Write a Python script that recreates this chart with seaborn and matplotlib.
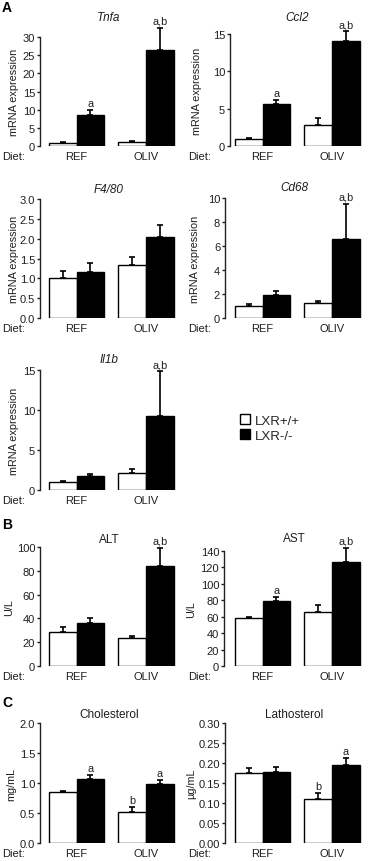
import numpy as np
import pandas as pd
import matplotlib
matplotlib.use("Agg")
import matplotlib.pyplot as plt
import seaborn as sns
from matplotlib.patches import Patch

# categories
diets = ["REF", "OLIV"]
genotypes = ["LXR+/+", "LXR-/-"]

# values in order REF +/+, REF -/-, OLIV +/+, OLIV -/-
tnfa_mean = [0.9, 8.5, 1.2, 26.3]
tnfa_err = [0.15, 1.4, 0.25, 6.3]
tnfa_sig = ["", "a", "", "a,b"]

ccl2_mean = [0.9, 5.65, 2.75, 14.05]
ccl2_err = [0.15, 0.5, 1.05, 1.3]
ccl2_sig = ["", "a", "", "a,b"]

f480_mean = [1.0, 1.17, 1.33, 2.03]
f480_err = [0.19, 0.22, 0.22, 0.32]
f480_sig = ["", "", "", ""]

cd68_mean = [1.0, 1.92, 1.28, 6.55]
cd68_err = [0.14, 0.34, 0.17, 2.98]
cd68_sig = ["", "", "", "a,b"]

il1b_mean = [1.0, 1.75, 2.1, 9.3]
il1b_err = [0.17, 0.21, 0.57, 5.53]
il1b_sig = ["", "", "", "a,b"]

alt_mean = [28.2, 35.8, 23.4, 84.2]
alt_err = [4.5, 4.2, 1.6, 15.2]
alt_sig = ["", "", "", "a,b"]

ast_mean = [58.0, 79.1, 65.7, 127.0]
ast_err = [1.7, 4.9, 8.2, 16.7]
ast_sig = ["", "a", "", "a,b"]

chol_mean = [0.85, 1.07, 0.52, 0.99]
chol_err = [0.025, 0.07, 0.08, 0.06]
chol_sig = ["", "a", "b", "a"]

lath_mean = [0.175, 0.178, 0.111, 0.195]
lath_err = [0.012, 0.013, 0.015, 0.018]
lath_sig = ["", "", "b", "a"]

sns.set_style("ticks")
plt.rcParams["font.family"] = ["Liberation Sans", "DejaVu Sans"]
txt = "#1e1e1e"

W, H = 369, 862
fig = plt.figure(figsize=(W / 100, H / 100), dpi=100)

# panel layout in pixels: spine x, top tick y, zero y, title y, ylabel x, "Diet:" x, REF center x
panels = [
    ("Tnfa", True, tnfa_mean, tnfa_err, tnfa_sig, "mRNA expression", np.arange(0, 31, 5), "{:.0f}", (40, 38, 147, 18, 14, 2, 76.5)),
    ("Ccl2", True, ccl2_mean, ccl2_err, ccl2_sig, "mRNA expression", np.arange(0, 16, 5), "{:.0f}", (230, 35, 147, 18, 197, 188, 262.5)),
    ("F4/80", True, f480_mean, f480_err, f480_sig, "mRNA expression", np.arange(0, 3.01, 0.5), "{:.1f}", (40, 200, 319, 190, 14, 2, 76.5)),
    ("Cd68", True, cd68_mean, cd68_err, cd68_sig, "mRNA expression", np.arange(0, 11, 2), "{:.0f}", (225, 199, 319, 188, 195, 188, 262.5)),
    ("Il1b", True, il1b_mean, il1b_err, il1b_sig, "mRNA expression", np.arange(0, 16, 5), "{:.0f}", (40, 371, 491, 360, 14, 2, 76.5)),
    ("ALT", False, alt_mean, alt_err, alt_sig, "U/L", np.arange(0, 101, 20), "{:.0f}", (40, 548, 667, 540, 9, 2, 76.5)),
    ("AST", False, ast_mean, ast_err, ast_sig, "U/L", np.arange(0, 141, 20), "{:.0f}", (224, 552, 667, 539, 191, 188, 262.5)),
    ("Cholesterol", False, chol_mean, chol_err, chol_sig, "mg/mL", np.arange(0, 2.01, 0.5), "{:.1f}", (40, 724, 844, 715, 11, 2, 76.5)),
    ("Lathosterol", False, lath_mean, lath_err, lath_sig, "µg/mL", np.arange(0, 0.301, 0.05), "{:.2f}", (225, 724, 844, 715, 191, 188, 262.5)),
]

unit = 69.5  # pixels between REF and OLIV group centres
colors = {"LXR+/+": "white", "LXR-/-": "black"}

for name, italic, mean, err, sig, ylab, yticks, fmt, lay in panels:
    x0, ytop, yzero, ytitle, ylabx, dietx, refc = lay
    x1 = refc + 1.46 * unit
    ax = fig.add_axes([x0 / W, 1 - yzero / H, (x1 - x0) / W, (yzero - ytop) / H])

    df = pd.DataFrame({
        "Diet": np.repeat(diets, 2),
        "Genotype": genotypes * 2,
        "value": mean,
        "err": err,
        "sig": sig,
    })
    sns.barplot(data=df, x="Diet", y="value", hue="Genotype", order=diets,
                hue_order=genotypes, palette=colors, edgecolor="black",
                linewidth=1.0, errorbar=None, legend=False, saturation=1,
                width=0.8, ax=ax)

    for p in ax.patches:
        cx = p.get_x() + p.get_width() / 2
        h = p.get_height()
        d = int(round(cx))
        g = 0 if cx < d else 1
        row = df[(df["Diet"] == diets[d]) & (df["Genotype"] == genotypes[g])].iloc[0]
        ax.errorbar(cx, h, yerr=[[0], [row["err"]]], fmt="none", ecolor="black",
                    elinewidth=1.2, capsize=2, capthick=1.2, clip_on=False, zorder=1)
        if row["sig"]:
            ax.annotate(row["sig"], (cx, h + row["err"]), xytext=(0, 1.5),
                        textcoords="offset points", ha="center", va="bottom",
                        fontsize=7.8, color=txt, annotation_clip=False)

    ax.set_xlim((x0 - refc) / unit, (x1 - refc) / unit)
    ax.set_ylim(0, yticks[-1])
    ax.set_yticks(yticks)
    ax.set_yticklabels([fmt.format(v) for v in yticks])
    ax.set_xlabel("")
    ax.set_ylabel(ylab, fontsize=7.8, color=txt, va="center")
    ax.yaxis.set_label_coords((ylabx - x0) / (x1 - x0), 0.5)
    sns.despine(ax=ax, bottom=True)
    ax.spines["left"].set_linewidth(1.0)
    ax.spines["left"].set_color("#222222")
    ax.tick_params(axis="x", length=0, pad=3.5, labelsize=8, labelcolor=txt)
    ax.tick_params(axis="y", length=2.5, width=1.0, pad=1.0, labelsize=8,
                   labelcolor=txt, color="#222222")

    ax.annotate("Diet:", xy=(dietx / W, 0), xycoords=("figure fraction", "axes fraction"),
                xytext=(0, -3.5), textcoords="offset points", ha="left", va="top",
                fontsize=8, color=txt)
    fig.text((x0 + x1) / 2 / W, 1 - ytitle / H, name, ha="center", va="center",
             fontsize=8.5, color=txt, style="italic" if italic else "normal")

# panel letters
for letter, ly in [("A", 8), ("B", 525), ("C", 703)]:
    fig.text(2 / W, 1 - ly / H, letter, ha="left", va="center", fontsize=10,
             fontweight="bold", color="black")

handles = [Patch(facecolor=colors[g], edgecolor="black", linewidth=1.0) for g in genotypes]
fig.legend(handles, genotypes, loc="center left", bbox_to_anchor=(240 / W, 1 - 429 / H),
           frameon=False, fontsize=9.5, handlelength=0.75, handleheight=0.75,
           handletextpad=0.35, labelspacing=0.2, borderpad=0, borderaxespad=0)

fig.savefig("out.png", dpi=100)
